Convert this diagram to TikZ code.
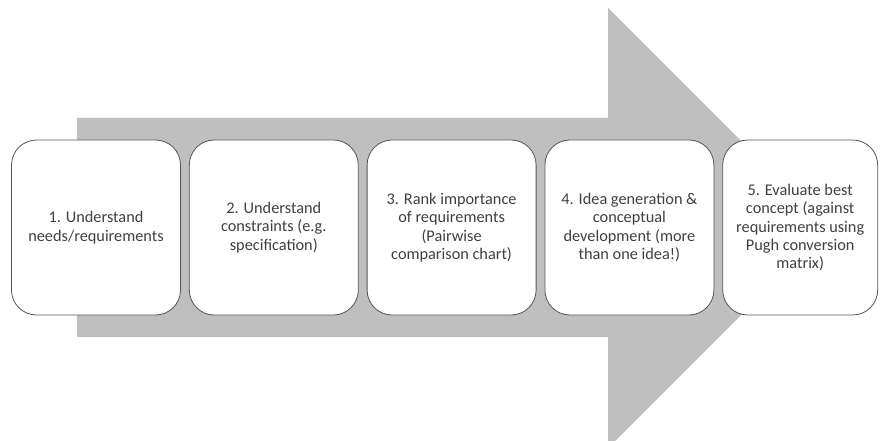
\documentclass[tikz,border=0pt]{standalone}
\usepackage{fontspec}
\setmainfont{Carlito}
\usetikzlibrary{positioning}
\definecolor{arrowgray}{RGB}{191,191,191}
\definecolor{boxline}{RGB}{85,85,85}
\definecolor{boxtext}{RGB}{64,64,64}
\begin{document}
\begin{tikzpicture}[x=1pt, y=-1pt,
    stepbox/.style={draw=boxline, fill=white, rounded corners=25pt, line width=0.8pt,
      minimum width=169pt, minimum height=175pt, align=center, text=boxtext,
      font=\fontsize{16.3}{18.4}\selectfont, inner sep=2pt},
    node distance=8pt]
    \useasboundingbox (0,0) rectangle (881,441);
    % Big background arrow
    \fill[arrowgray] (77,118) -- (608,118) -- (608,8) -- (828,228)
        -- (608,448) -- (608,337) -- (77,337) -- cycle;
    % Steps
    \node[stepbox] (s1) at (96,227.5) {1. Understand\\needs/requirements};
    \node[stepbox, right=of s1] (s2) {2. Understand\\constraints (e.g.\\specification)};
    \node[stepbox, right=of s2] (s3) {3. Rank importance\\of requirements\\(Pairwise\\comparison chart)};
    \node[stepbox, right=of s3] (s4) {4. Idea generation \&\\conceptual\\development (more\\than one idea!)};
    \node[stepbox, right=of s4, minimum width=155pt] (s5) {5. Evaluate best\\concept (against\\requirements using\\Pugh conversion\\matrix)};
\end{tikzpicture}
\end{document}
